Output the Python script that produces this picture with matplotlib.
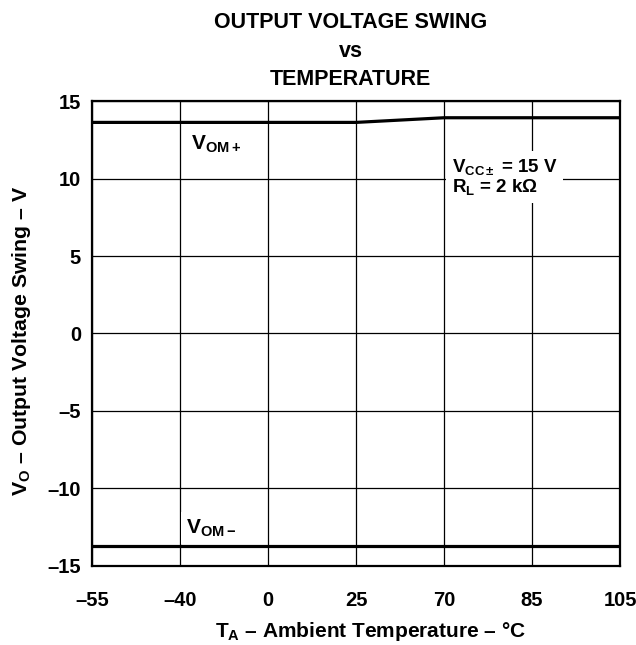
import matplotlib
matplotlib.use("Agg")
import matplotlib.pyplot as plt
import numpy as np

plt.rcParams['font.family'] = ['Liberation Sans', 'DejaVu Sans']
plt.rcParams['font.weight'] = 'bold'
plt.rcParams['axes.labelweight'] = 'bold'
plt.rcParams['mathtext.fontset'] = 'custom'
plt.rcParams['mathtext.rm'] = 'Liberation Sans:bold'
plt.rcParams['mathtext.it'] = 'Liberation Sans:bold'
plt.rcParams['mathtext.bf'] = 'Liberation Sans:bold'
plt.rcParams['mathtext.sf'] = 'Liberation Sans:bold'

# Temperature categories (evenly spaced on the chart)
temps = ['–55', '–40', '0', '25', '70', '85', '105']
vom_pos = [13.62, 13.62, 13.62, 13.62, 13.92, 13.92, 13.92]
vom_neg = [-13.72, -13.72, -13.72, -13.72, -13.72, -13.72, -13.72]
y_ticks = [-15, -10, -5, 0, 5, 10, 15]
y_labels = ['–15', '–10', '–5', '0', '5', '10', '15']

fig = plt.figure(figsize=(6.36, 6.45), dpi=100)
ax = fig.add_axes([0.1447, 0.1225, 0.8303, 0.7209])

x = np.arange(len(temps))
ax.plot(x, vom_pos, color='black', lw=2.3, zorder=3)
ax.plot(x, vom_neg, color='black', lw=2.3, zorder=3)

ax.set_xlim(0, len(temps) - 1)
ax.set_ylim(-15, 15)
ax.set_xticks(x)
ax.set_xticklabels(temps)
ax.set_yticks(y_ticks)
ax.set_yticklabels(y_labels)
ax.tick_params(length=0, labelsize=14.5)
ax.tick_params(axis='x', pad=18)
ax.tick_params(axis='y', pad=8)
ax.grid(True, color='black', lw=0.9)
ax.set_axisbelow(True)
for s in ax.spines.values():
    s.set_linewidth(1.6)

box = dict(facecolor='white', edgecolor='none', pad=4)
ax.text(1.12, 12.2, r'$\mathrm{V_{OM+}}$', fontsize=15, ha='left', va='center', bbox=box, zorder=2)
ax.text(1.07, -12.55, r'$\mathrm{V_{OM-}}$', fontsize=15, ha='left', va='center', bbox=box, zorder=2)
ax.text(4.09, 10.1, r'$\mathrm{V_{CC\pm}}$ = 15 V' + '\n' + r'$\mathrm{R_L}$ = 2 k$\Omega$',
        fontsize=13.5, ha='left', va='center', linespacing=1.0, bbox=box, zorder=2)

ax.set_xlabel(r'$\mathrm{T_A}$ – Ambient Temperature – °C', fontsize=15)
ax.set_ylabel(r'$\mathrm{V_O}$ – Output Voltage Swing – V', fontsize=15.3)
ax.xaxis.set_label_coords(0.5265, -0.117)
ax.yaxis.set_label_coords(-0.112, 0.484)

fig.text(0.551, 1 - 28 / 645, 'OUTPUT VOLTAGE SWING', ha='center', va='baseline', fontsize=15.5)
fig.text(0.551, 1 - 57 / 645, 'vs', ha='center', va='baseline', fontsize=15.5)
fig.text(0.551, 1 - 85 / 645, 'TEMPERATURE', ha='center', va='baseline', fontsize=15.5)

fig.savefig('out.png', dpi=100, facecolor='white')
